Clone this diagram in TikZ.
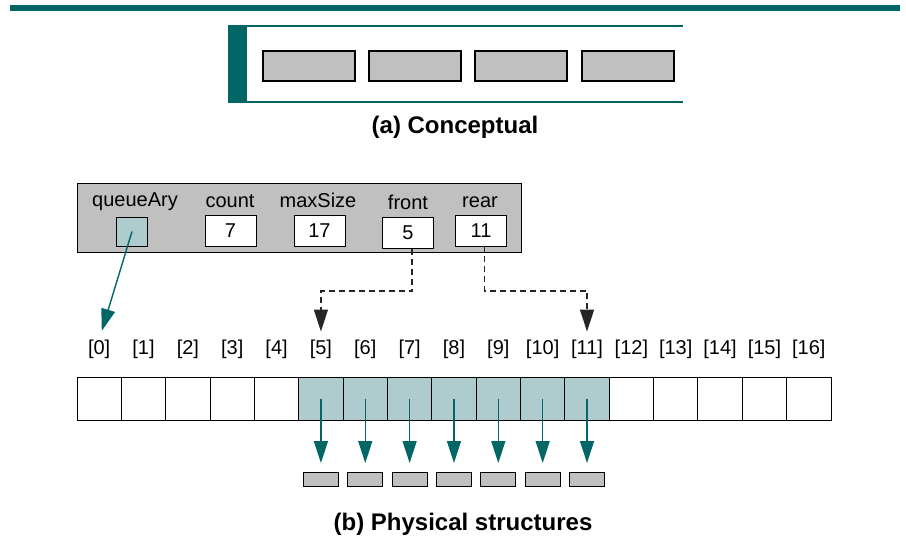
\documentclass[tikz,border=0pt]{standalone}
\usepackage{fontspec}
\setmainfont{Liberation Sans}
\usetikzlibrary{arrows.meta}

\definecolor{qteal}{RGB}{0,102,102}
\definecolor{qlight}{RGB}{174,203,206}
\definecolor{qgray}{RGB}{192,192,192}

\begin{document}
\begin{tikzpicture}[x=1pt, y=-1pt,
                    every node/.style={inner sep=0pt, outer sep=0pt},
                    lbl/.style={font=\fontsize{20}{24}\selectfont, anchor=base},
                    captxt/.style={font=\fontsize{24}{28}\selectfont\bfseries, anchor=base},
                    field/.style={draw, line width=0.9pt, fill=white, minimum width=51pt, minimum height=31pt, font=\fontsize{20}{24}\selectfont},
                    cell/.style={draw, line width=0.9pt, minimum width=44.35pt, minimum height=43.5pt},
                    elem/.style={draw, line width=0.9pt, fill=qgray, minimum width=35pt, minimum height=14pt},
                    block/.style={draw, line width=1.2pt, fill=qgray, minimum width=92pt, minimum height=30pt},
                    ptr/.style={qteal, line width=1.4pt, shorten >=9pt, -{Triangle[length=22pt, width=14pt]}},
                    dptr/.style={black!85, line width=1.4pt, dash pattern=on 6pt off 4pt, shorten >=8pt, -{Triangle[length=22pt, width=14pt]}}
                    ]
    \useasboundingbox (0,0) rectangle (906,546);

    % (a) conceptual
    \fill[qteal] (10,5) rectangle (900,11);
    \fill[qteal] (228,26) rectangle (247,102);
    \draw[qteal, line width=1.5pt] (228,26) -- (683,26);
    \draw[qteal, line width=1.5pt] (228,102) -- (683,102);
    \foreach \i/\x in {1/309, 2/415, 3/521, 4/628}{
        \node[block] (q\i) at (\x,66) {};
    }
    \node[captxt] (capa) at (455,133) {(a) Conceptual};

    % (b) physical structures
    \node[draw, line width=1pt, fill=qgray, minimum width=444pt, minimum height=69pt] (rec) at (299,217.5) {};
    \node[lbl] (lqueue) at (135,206) {queueAry};
    \node[lbl] (lcount) at (230,207) {count};
    \node[lbl] (lmax) at (318,207) {maxSize};
    \node[lbl] (lfront) at (408,209) {front};
    \node[lbl] (lrear) at (480,207) {rear};

    \node[draw, line width=1pt, fill=qlight, minimum width=31pt, minimum height=29pt] (fqueue) at (132,231.5) {};
    \node[field] (fcount) at (230.5,230.5) {7};
    \node[field] (fmax) at (319.5,230.5) {17};
    \node[field] (ffront) at (408,233) {5};
    \node[field] (frear) at (481,230.5) {11};

    \foreach \i in {0,...,16}{
        \ifnum\i<5 \def\cf{white}\else\ifnum\i>11 \def\cf{white}\else\def\cf{qlight}\fi\fi
        \node[cell, fill=\cf] (c\i) at ({77+(\i+0.5)*44.35},399) {};
        \node[lbl] (i\i) at ({77+(\i+0.5)*44.35},354) {[\i]};
    }

    \foreach \i in {5,...,11}{
        \node[elem] (p\i) at ({77+(\i+0.5)*44.35},479) {};
        \draw[ptr] (c\i.center) -- (p\i.north);
    }

    \coordinate (bend) at (0,291);
    \draw[ptr] (fqueue.center) -- (i0.north);
    \draw[dptr] ([xshift=4pt]ffront.south) -- ([xshift=4pt]ffront.south |- bend) -| (i5.north);
    \draw[dptr] ([xshift=3.5pt]frear.south) -- ([xshift=3.5pt]frear.south |- bend) -| (i11.north);

    \node[captxt] (capb) at (463,530) {(b) Physical structures};

\end{tikzpicture}
\end{document}
